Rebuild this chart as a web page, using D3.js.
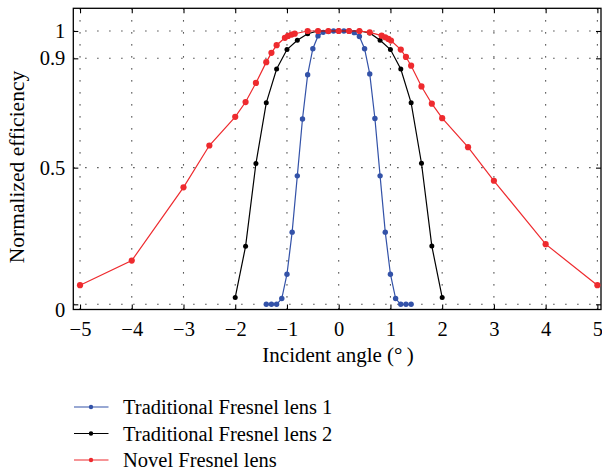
<!DOCTYPE html>
<html><head><meta charset="utf-8">
<script src="https://cdn.jsdelivr.net/npm/d3@7"></script>
<style>
body{margin:0;background:#fff}
svg{display:block}
</style>
</head><body>
<svg id="chart" width="602" height="470" font-family="Liberation Serif, Times New Roman, serif"></svg>
<script>
// ---- data ----
const lens1Angles = [-1.4,-1.3,-1.2,-1.1,-1.0,-0.9,-0.8,-0.7,-0.6,-0.5,-0.4,-0.3,-0.2,-0.1,0,0.1,0.2,0.3,0.4,0.5,0.6,0.7,0.8,0.9,1.0,1.1,1.2,1.3,1.4];
const lens1Eff    = [0,0,0,0.021,0.11,0.264,0.47,0.678,0.84,0.935,0.982,0.995,0.998,1,1,1,1,0.994,0.98,0.935,0.843,0.68,0.47,0.264,0.11,0.021,0,0,0];

const lens2Angles = [-2.0,-1.8,-1.6,-1.4,-1.2,-1.0,-0.8,-0.6,-0.4,-0.2,0,0.2,0.4,0.6,0.8,1.0,1.2,1.4,1.6,1.8,2.0];
const lens2Eff    = [0.025,0.212,0.515,0.737,0.861,0.932,0.966,0.99,1,1,1,1,1,0.993,0.966,0.932,0.861,0.737,0.516,0.213,0.025];

const novelAngles = [-5,-4,-3,-2.5,-2,-1.8,-1.6,-1.4,-1.3,-1.2,-1.04,-0.98,-0.91,-0.85,-0.6,-0.4,-0.2,0,0.2,0.4,0.6,0.83,0.9,0.96,1.01,1.2,1.3,1.4,1.6,1.8,2,2.5,3,4,5];
const novelEff    = [0.07,0.16,0.428,0.581,0.686,0.74,0.81,0.886,0.92,0.948,0.975,0.982,0.987,0.99,1,1,1,1,1,1,0.995,0.983,0.977,0.971,0.965,0.932,0.905,0.873,0.797,0.734,0.681,0.575,0.452,0.22,0.07];

const seriesNames = ["Traditional Fresnel lens 1","Traditional Fresnel lens 2","Novel Fresnel lens"];
const xTickValues = [-5,-4,-3,-2,-1,0,1,2,3,4,5];
const yTickValues = [0,0.5,0.9,1];
const yTickLabels = ["0","0.5","0.9","1"];
const xTitle = "Incident angle (\u00b0\u2009)";
const yTitle = "Normalized efficiency";

// ---- styles / layout ----
const FONT = "Liberation Serif, Times New Roman, serif";
const colors = ["#3352a8","#000000","#ee2a2e"];
const radii = [2.7,2.5,3.1];
const plot = {left:73.3, right:601, top:8.3, bottom:309.5};

const svg = d3.select("#chart");
const x = d3.scaleLinear().domain([-5.13,5.07]).range([plot.left,plot.right]);
const y = d3.scaleLinear().domain([-0.019,1.083]).range([plot.bottom,plot.top]);

// grid
const grid = svg.append("g").attr("stroke","#222").attr("stroke-width",1.1).attr("stroke-dasharray","1.2,10.8");
grid.selectAll("line.v").data(xTickValues).join("line").attr("class","v")
  .attr("x1",d=>x(d)).attr("x2",d=>x(d)).attr("y1",plot.bottom).attr("y2",plot.top);
grid.selectAll("line.h").data(yTickValues).join("line").attr("class","h")
  .attr("y1",d=>y(d)).attr("y2",d=>y(d)).attr("x1",plot.left).attr("x2",plot.right);

// axes
const fmtMinus = d => d<0 ? "\u2212"+Math.abs(d) : String(d);
const axB = svg.append("g").attr("transform",`translate(0,${plot.bottom})`)
  .call(d3.axisBottom(x).tickValues(xTickValues).tickSizeInner(-5).tickSizeOuter(0).tickPadding(12).tickFormat(fmtMinus));
const axT = svg.append("g").attr("transform",`translate(0,${plot.top})`)
  .call(d3.axisTop(x).tickValues(xTickValues).tickSizeInner(-5).tickSizeOuter(0).tickFormat(""));
const axL = svg.append("g").attr("transform",`translate(${plot.left},0)`)
  .call(d3.axisLeft(y).tickValues(yTickValues).tickSizeInner(-5).tickSizeOuter(0).tickPadding(8)
    .tickFormat((d,i)=>yTickLabels[i]));
const axR = svg.append("g").attr("transform",`translate(${plot.right},0)`)
  .call(d3.axisRight(y).tickValues(yTickValues).tickSizeInner(-5).tickSizeOuter(0).tickFormat(""));
[axB,axT,axL,axR].forEach(a=>{
  a.attr("font-family",FONT).attr("font-size",20.5);
  a.select(".domain").remove();
  a.selectAll("line").attr("stroke","#000").attr("stroke-width",1.1);
  a.selectAll("text").attr("fill","#000");
});
axL.selectAll(".tick").filter(d=>d===0).select("text").attr("dy","0.6em");
// box
svg.append("rect").attr("x",plot.left).attr("y",plot.top)
  .attr("width",plot.right-plot.left).attr("height",plot.bottom-plot.top)
  .attr("fill","none").attr("stroke","#000").attr("stroke-width",1.3);

// series
const seriesX = [lens1Angles,lens2Angles,novelAngles];
const seriesY = [lens1Eff,lens2Eff,novelEff];
const line = d3.line().x(d=>x(d[0])).y(d=>y(d[1]));
seriesNames.forEach((name,i)=>{
  const pts = seriesX[i].map((v,j)=>[v,seriesY[i][j]]);
  const g = svg.append("g");
  g.append("path").datum(pts).attr("d",line).attr("fill","none")
    .attr("stroke",colors[i]).attr("stroke-width",1.2);
  g.selectAll("circle").data(pts).join("circle")
    .attr("cx",d=>x(d[0])).attr("cy",d=>y(d[1])).attr("r",radii[i]).attr("fill",colors[i]);
});

// titles
svg.append("text").attr("x",338).attr("y",362).attr("font-family",FONT)
  .attr("text-anchor","middle").attr("font-size",21).text(xTitle);
svg.append("text").attr("transform",`translate(24,167) rotate(-90)`).attr("font-family",FONT)
  .attr("text-anchor","middle").attr("font-size",21.5).text(yTitle);

// legend
const legRows = [407,433.5,460];
const leg = svg.append("g").attr("font-family",FONT);
seriesNames.forEach((name,i)=>{
  const r = leg.append("g").attr("transform",`translate(0,${legRows[i]})`);
  r.append("line").attr("x1",74).attr("x2",108.5).attr("stroke",colors[i]).attr("stroke-width",1.2);
  r.append("circle").attr("cx",91).attr("r",2.2).attr("fill",colors[i]);
  r.append("text").attr("x",123).attr("y",7).attr("font-size",20.5).text(name);
});
</script>
</body></html>
